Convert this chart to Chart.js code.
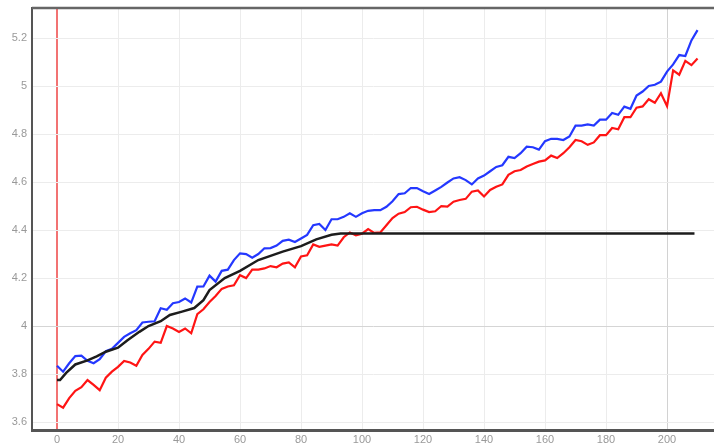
<!DOCTYPE html>
<html lang="en">
<head>
    <meta charset="UTF-8">
    <title>Chart</title>
    <script src="https://cdn.jsdelivr.net/npm/chart.js"></script>
    <style>
        body {
            margin: 0;
            padding: 0;
            background: #fff;
        }
        canvas {
            display: block;
        }
    </style>
</head>
<body>
    <canvas id="mainChart" width="714" height="445"></canvas>

    <script>
        // x positions of the blue / red series (step 2)
        const seriesX = [
            0, 2, 4, 6, 8, 10, 12, 14, 16, 18, 20, 22, 24, 26, 28, 30, 32, 34, 36, 38,
            40, 42, 44, 46, 48, 50, 52, 54, 56, 58, 60, 62, 64, 66, 68, 70, 72, 74, 76, 78,
            80, 82, 84, 86, 88, 90, 92, 94, 96, 98, 100, 102, 104, 106, 108, 110, 112, 114, 116, 118,
            120, 122, 124, 126, 128, 130, 132, 134, 136, 138, 140, 142, 144, 146, 148, 150, 152, 154, 156, 158,
            160, 162, 164, 166, 168, 170, 172, 174, 176, 178, 180, 182, 184, 186, 188, 190, 192, 194, 196, 198,
            200, 202, 204, 206, 208, 210
        ];

        const blueValues = [
            3.835, 3.81, 3.845, 3.875, 3.877, 3.855, 3.845, 3.862, 3.895, 3.905, 3.93, 3.955, 3.97, 3.983, 4.015, 4.018, 4.02, 4.074, 4.068, 4.095,
            4.1, 4.115, 4.098, 4.164, 4.165, 4.21, 4.185, 4.23, 4.235, 4.275, 4.303, 4.3, 4.285, 4.3, 4.324, 4.325, 4.335, 4.355, 4.36, 4.35,
            4.365, 4.38, 4.42, 4.425, 4.4, 4.445, 4.445, 4.455, 4.47, 4.455, 4.47, 4.48, 4.483, 4.483, 4.497, 4.52, 4.55, 4.553, 4.575, 4.575,
            4.562, 4.55, 4.565, 4.58, 4.598, 4.615, 4.62, 4.608, 4.59, 4.615, 4.627, 4.645, 4.663, 4.67, 4.705, 4.7, 4.72, 4.747, 4.745, 4.735,
            4.77, 4.78, 4.78, 4.775, 4.79, 4.835, 4.835, 4.84, 4.835, 4.86, 4.86, 4.888, 4.88, 4.914, 4.905, 4.96, 4.977, 5.0, 5.005, 5.018,
            5.06, 5.09, 5.129, 5.125, 5.19, 5.233
        ];

        const redValues = [
            3.675, 3.66, 3.7, 3.73, 3.745, 3.775, 3.755, 3.733, 3.785, 3.81, 3.83, 3.855, 3.848, 3.835, 3.88, 3.905, 3.935, 3.93, 4.0, 3.99,
            3.975, 3.99, 3.97, 4.05, 4.07, 4.1, 4.125, 4.155, 4.165, 4.17, 4.212, 4.2, 4.235, 4.235, 4.24, 4.25, 4.245, 4.26, 4.265, 4.245,
            4.29, 4.295, 4.34, 4.33, 4.335, 4.34, 4.335, 4.37, 4.39, 4.378, 4.385, 4.404, 4.388, 4.39, 4.42, 4.45, 4.468, 4.475, 4.495, 4.497,
            4.485, 4.475, 4.478, 4.5, 4.498, 4.518, 4.525, 4.53, 4.56, 4.565, 4.54, 4.567, 4.58, 4.59, 4.63, 4.645, 4.65, 4.665, 4.675, 4.685,
            4.69, 4.71, 4.7, 4.72, 4.745, 4.775, 4.77, 4.755, 4.765, 4.795, 4.795, 4.825, 4.82, 4.87, 4.87, 4.91, 4.915, 4.945, 4.93, 4.97,
            4.916, 5.065, 5.047, 5.105, 5.087, 5.115
        ];

        // smooth black line (own x positions)
        const blackX = [0, 1, 3, 6, 10, 13, 16, 20, 23, 27, 30, 34, 37, 41, 45, 48, 50, 55, 60, 66, 74, 80, 85, 90, 93, 209];
        const blackValues = [3.775, 3.775, 3.805, 3.84, 3.857, 3.874, 3.893, 3.91, 3.94, 3.976, 4.0, 4.02, 4.046, 4.06, 4.075, 4.108, 4.15, 4.2, 4.23, 4.275, 4.31, 4.333, 4.361, 4.38, 4.386, 4.386];

        const xTicks = [0, 20, 40, 60, 80, 100, 120, 140, 160, 180, 200];
        const yTicks = [3.6, 3.8, 4, 4.2, 4.4, 4.6, 4.8, 5, 5.2];

        const toPoints = (xs, ys) => xs.map((x, i) => ({ x: x, y: ys[i] }));

        // frame line along the top of the plot area
        const topBorder = {
            id: 'topBorder',
            afterDraw(chart) {
                const { ctx, chartArea } = chart;
                ctx.save();
                ctx.strokeStyle = '#666';
                ctx.lineWidth = 2.5;
                ctx.beginPath();
                ctx.moveTo(chartArea.left, chartArea.top);
                ctx.lineTo(chartArea.right, chartArea.top);
                ctx.stroke();
                ctx.restore();
            }
        };

        const ctx = document.getElementById('mainChart').getContext('2d');
        new Chart(ctx, {
            type: 'line',
            data: {
                datasets: [
                    {
                        data: toPoints(blackX, blackValues),
                        borderColor: '#1c1c1c',
                        borderWidth: 2.5,
                        pointRadius: 0,
                        tension: 0
                    },
                    {
                        data: toPoints(seriesX, blueValues),
                        borderColor: '#2438ff',
                        borderWidth: 2.2,
                        pointRadius: 0,
                        tension: 0
                    },
                    {
                        data: toPoints(seriesX, redValues),
                        borderColor: '#ff1414',
                        borderWidth: 2.2,
                        pointRadius: 0,
                        tension: 0
                    }
                ]
            },
            options: {
                responsive: false,
                animation: false,
                layout: { padding: { top: 8, right: 0, left: 0, bottom: 0 } },
                plugins: {
                    legend: { display: false },
                    tooltip: { enabled: false }
                },
                scales: {
                    x: {
                        type: 'linear',
                        min: -8.2,
                        max: 215.4,
                        afterBuildTicks: (scale) => { scale.ticks = xTicks.map(v => ({ value: v })); },
                        afterFit: (scale) => {
                            scale.height = 15;
                            scale.paddingLeft = 0;
                            scale.paddingRight = 0;
                        },
                        border: { color: '#555', width: 3 },
                        grid: {
                            drawTicks: false,
                            color: (c) => c.tick.value === 0 ? 'rgba(240,90,90,0.85)' : (c.tick.value === 200 ? '#d2d2d2' : '#ececec'),
                            lineWidth: (c) => c.tick.value === 0 ? 2 : 1
                        },
                        ticks: {
                            padding: 3,
                            color: '#999',
                            font: { family: 'Liberation Sans', size: 11 },
                            maxRotation: 0,
                            callback: (v) => String(v)
                        }
                    },
                    y: {
                        min: 3.567,
                        max: 5.325,
                        afterBuildTicks: (scale) => { scale.ticks = yTicks.map(v => ({ value: v })); },
                        afterFit: (scale) => {
                            scale.width = 32;
                            scale.paddingTop = 0;
                            scale.paddingBottom = 0;
                        },
                        border: { color: '#555', width: 2 },
                        grid: {
                            drawTicks: false,
                            color: (c) => c.tick.value === 4 ? '#d5d5d5' : '#ececec'
                        },
                        ticks: {
                            padding: 5,
                            color: '#999',
                            font: { family: 'Liberation Sans', size: 11 },
                            callback: (v) => String(+v.toFixed(1))
                        }
                    }
                }
            },
            plugins: [topBorder]
        });
    </script>
</body>
</html>
